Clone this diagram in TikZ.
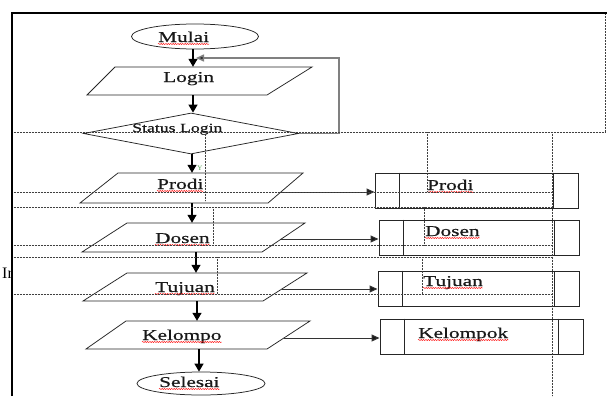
\documentclass[tikz,border=0pt]{standalone}
\usepackage{fontspec}
\setmainfont{Liberation Serif}
\newfontfamily\wf[FakeStretch=1.42,FakeBold=0.6]{Liberation Serif}
\usetikzlibrary{arrows.meta,shapes.geometric,decorations.pathmorphing}
\begin{document}
\begin{tikzpicture}[x=1pt,y=-1pt,
  txt/.style={font=\wf\fontsize{15}{15}\selectfont, inner sep=0, anchor=base west, text=black!90},
  outl/.style={draw=black!85, line width=0.75pt},
  ghost/.style={draw=none, inner sep=0, minimum width=100pt},
  varr/.style={line width=1.2pt, -{Triangle[length=8pt,width=9pt]}},
  harr/.style={draw=black!80, line width=1pt, -{Triangle[length=8pt,width=7pt,fill=black!90]}},
  gridl/.style={draw=black!75, line width=0.7pt, dash pattern=on 0.7pt off 0.8pt},
  squig/.style={draw=red, line width=0.45pt, decorate, decoration={snake, amplitude=0.55pt, segment length=2.4pt}},
  pbox/.style={draw=black!85, line width=1pt, minimum height=35pt, inner sep=0},
  term/.style={ellipse, draw=black!85, line width=0.75pt, inner sep=0}
]
\useasboundingbox (0,0) rectangle (607,396);
\fill[white] (0,0) rectangle (607,396);

% terminals
\node[term, minimum width=127pt, minimum height=25pt] (mulai) at (195,36.5) {};
\node[txt] (tmulai) at (158,42) {Mulai};
\node[term, minimum width=128pt, minimum height=23pt] (selesai) at (201,383.5) {};
\node[txt] (tselesai) at (159,387) {Selesai};

% login
\draw[outl] (115,67) -- (312,67) -- (267,95) -- (87,95) -- cycle;
\node[ghost, minimum height=28pt] (login) at (193,81) {};
\node[txt] (tlogin) at (163,82) {Login};

% decision
\node[diamond, outl, minimum width=215pt, minimum height=41pt, inner sep=0] (status) at (191,133.5) {};
\node[txt, font=\wf\fontsize{12.5}{12.5}\selectfont] (tstatus) at (132,132) {Status Login};

% inputs
\draw[outl] (118,173) -- (303,173) -- (268,203) -- (80,203) -- cycle;
\node[ghost, minimum height=30pt] (prodi) at (192,188) {};
\node[txt] (tprodi) at (157,189) {Prodi};

\draw[outl] (127,223) -- (305,223) -- (262,252) -- (82,252) -- cycle;
\node[ghost, minimum height=29pt] (dosen) at (196,237.5) {};
\node[txt] (tdosen) at (155,243) {Dosen};

\draw[outl] (127,273) -- (307,273) -- (263,301) -- (83,301) -- cycle;
\node[ghost, minimum height=28pt] (tujuan) at (197,287) {};
\node[txt] (ttujuan) at (155,292) {Tujuan};

\draw[outl] (126,321) -- (310,321) -- (267,349) -- (86,349) -- cycle;
\node[ghost, minimum height=28pt] (kelompo) at (199,335) {};
\node[txt] (tkel) at (142,340) {Kelompo};

\node[font=\fontsize{7}{7}\selectfont, text=green!45!black!70, inner sep=0] (ylbl) at (200,168) {Y};

% vertical arrows
\draw[varr] (login.north |- mulai.south) -- (login.north);
\draw[varr] (login.south) -- (login.south |- status.north);
\draw[varr] (prodi.north |- status.south) -- (prodi.north);
\draw[varr] (prodi.south) -- (prodi.south |- dosen.north);
\draw[varr] (dosen.south) -- (dosen.south |- tujuan.north);
\draw[varr] (tujuan.south) -- (tujuan.south |- kelompo.north);
\draw[varr] (kelompo.south) -- (kelompo.south |- selesai.north);

% loop back
\coordinate (lc) at (339,58);
\coordinate (lp) at (196,58);
\draw[draw=black!50, line width=1.5pt, -{Triangle[length=8pt,width=7pt,fill=black!85]}] (status.east) -| (lc) -- (lp);

% predefined process boxes
\node[pbox, minimum width=203pt] (bprodi) at (476.5,190.5) {};
\node[pbox, minimum width=200pt] (bdosen) at (479,237.5) {};
\node[pbox, minimum width=201pt] (btujuan) at (478.5,288.5) {};
\node[pbox, minimum width=203pt] (bkel) at (481.5,336.5) {};
\foreach \b in {bprodi,bdosen,btujuan,bkel} {
  \draw[black!85, line width=1pt] ([xshift=25pt]\b.north west) -- ([xshift=25pt]\b.south west);
  \draw[black!85, line width=1pt] ([xshift=-25pt]\b.north east) -- ([xshift=-25pt]\b.south east);
}
\node[txt] (tbprodi) at (427,190) {Prodi};
\node[txt] (tbdosen) at (425,236) {Dosen};
\node[txt] (tbtujuan) at (423,286) {Tujuan};
\node[txt] (tbkel) at (418,338) {Kelompok};

% horizontal arrows
\coordinate (ep) at (281,192);
\coordinate (ed) at (281,239);
\coordinate (et) at (282,289);
\coordinate (ek) at (284,338);
\draw[harr] (ep) -- (ep -| bprodi.west);
\draw[harr] (ed) -- (ed -| bdosen.west);
\draw[harr] (et) -- (et -| btujuan.west);
\draw[harr] (ek) -- (ek -| bkel.west);

% spelling squiggles
\foreach \t in {tmulai,tprodi,tdosen,ttujuan,tkel,tselesai,tbprodi,tbdosen,tbtujuan,tbkel}
  \draw[squig] ([yshift=-2pt]\t.base west) -- ([yshift=-2pt]\t.base east);

% table grid (dotted)
\draw[gridl] (12,132) -- (605,132);
\draw[gridl] (605,13) -- (605,132);
\foreach \yy in {192,207,245,257,294} \draw[gridl] (12,\yy) -- (552,\yy);
\draw[gridl] (205,132) -- (205,201);
\draw[gridl] (213,207) -- (213,245);
\draw[gridl] (217,257) -- (217,294);
\draw[gridl] (427,132) -- (427,192);
\draw[gridl] (424,207) -- (424,245);
\draw[gridl] (422,257) -- (422,294);
\draw[gridl] (552,132) -- (552,396);

% frame
\draw[line width=1.3pt] (12,396) -- (12,13) -- (607,13);

% clipped text at left
\begin{scope}
  \clip (0,250) rectangle (11.4,300);
  \node[font=\fontsize{16}{16}\selectfont, inner sep=0, anchor=base west] (tin) at (2,278) {In};
\end{scope}
\end{tikzpicture}
\end{document}
